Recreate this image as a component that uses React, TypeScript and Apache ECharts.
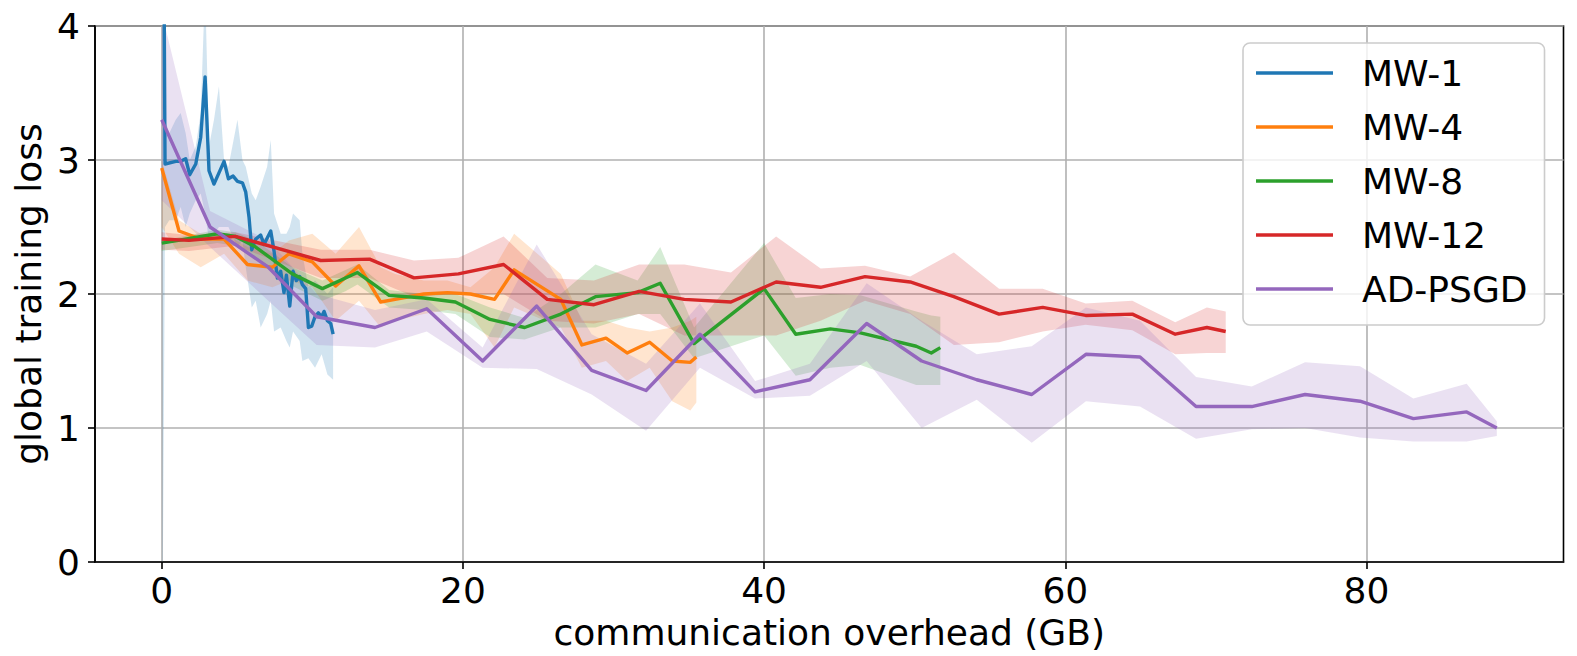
import React, { useEffect, useRef } from 'react';
import * as echarts from 'echarts';

const seriesNames = ['MW-1', 'MW-4', 'MW-8', 'MW-12', 'AD-PSGD'];
const lineColors = ['#1f77b4', '#ff7f0e', '#2ca02c', '#d62728', '#9467bd'];
const bandColors = [
  'rgba(31,119,180,0.2)',
  'rgba(255,127,14,0.2)',
  'rgba(44,160,44,0.2)',
  'rgba(214,39,40,0.2)',
  'rgba(148,103,189,0.2)',
];
const xTicks = [0, 20, 40, 60, 80];

// MW-1
const mw1X = [0.05, 0.22, 0.93, 1.26, 1.59, 1.86, 2.26, 2.59, 2.88, 3.14, 3.47, 4.14, 4.43, 4.74, 5.03, 5.36, 5.58, 5.8, 5.98, 6.24, 6.57, 6.79, 7.24, 7.46, 7.68, 7.9, 8.12, 8.28, 8.5, 8.72, 8.94, 9.16, 9.34, 9.56, 9.74, 9.96, 10.18, 10.4, 10.62, 10.78, 11.0, 11.22, 11.38];
const mw1Y = [6.5, 2.97, 2.99, 2.99, 3.01, 2.89, 2.97, 3.17, 3.62, 2.92, 2.82, 2.99, 2.86, 2.88, 2.84, 2.83, 2.76, 2.57, 2.33, 2.41, 2.44, 2.37, 2.47, 2.32, 2.12, 2.17, 2.01, 2.14, 1.91, 2.17, 2.1, 2.13, 2.07, 2.04, 1.75, 1.76, 1.83, 1.86, 1.83, 1.87, 1.8, 1.78, 1.7];
const mw1BandX = [0.05, 0.22, 0.5, 0.93, 1.26, 1.59, 1.86, 2.26, 2.59, 2.88, 3.14, 3.47, 3.8, 4.14, 4.43, 5.03, 5.36, 5.58, 5.98, 6.24, 6.57, 7.0, 7.24, 7.46, 7.9, 8.28, 8.5, 8.72, 9.16, 9.34, 9.74, 10.18, 10.62, 11.0, 11.38];
const mw1Hi = [9, 3.3, 3.2, 3.3, 3.35, 3.2, 3.0, 3.1, 3.35, 4.3, 3.1, 3.3, 3.55, 3.0, 2.95, 3.3, 3.0, 2.95, 2.75, 2.7, 2.8, 2.95, 3.15, 2.6, 2.45, 2.45, 2.5, 2.6, 2.55, 2.3, 2.05, 2.1, 2.05, 2.0, 2.05];
const mw1Lo = [-0.5, 2.5, 2.55, 2.55, 2.65, 2.5, 2.6, 2.7, 2.75, 2.6, 2.4, 2.45, 2.5, 2.5, 2.5, 2.35, 2.4, 2.2, 1.9, 1.95, 1.75, 1.85, 1.95, 1.72, 1.75, 1.65, 1.6, 1.72, 1.65, 1.5, 1.52, 1.45, 1.55, 1.4, 1.36];

// MW-4
const mw4X = [0, 1.15, 2.59, 4.14, 5.69, 7.35, 8.45, 10.0, 11.55, 13.1, 14.54, 15.5, 17.4, 18.97, 20.5, 22.1, 23.4, 26.5, 27.9, 29.5, 30.9, 32.4, 33.9, 35.1, 35.5];
const mw4Y = [2.94, 2.47, 2.41, 2.41, 2.22, 2.2, 2.3, 2.24, 2.06, 2.21, 1.94, 1.96, 2.0, 2.01, 2.0, 1.96, 2.18, 1.96, 1.62, 1.67, 1.56, 1.64, 1.5, 1.49, 1.53];
const mw4Hi = [3.0, 2.55, 2.45, 2.45, 2.35, 2.3, 2.4, 2.45, 2.3, 2.5, 2.2, 2.15, 2.1, 2.1, 2.05, 2.2, 2.45, 2.15, 1.8, 1.8, 1.75, 1.72, 1.75, 1.8, 1.83];
const mw4Lo = [2.5, 2.3, 2.2, 2.3, 2.1, 2.05, 2.1, 2.05, 1.8, 1.95, 1.75, 1.8, 1.85, 1.88, 1.85, 1.6, 1.9, 1.75, 1.45, 1.5, 1.35, 1.45, 1.2, 1.13, 1.19];

// MW-8
const mw8X = [0, 3.7, 4.9, 6.24, 8.67, 10.67, 12.2, 13.0, 15.1, 17.4, 19.5, 21.8, 24.1, 26.5, 28.8, 31.6, 33.1, 35.35, 40.0, 42.1, 44.4, 46.4, 50.1, 51.1, 51.7];
const mw8Y = [2.38, 2.45, 2.43, 2.35, 2.15, 2.04, 2.12, 2.16, 1.99, 1.97, 1.94, 1.81, 1.75, 1.85, 1.98, 2.01, 2.08, 1.63, 2.04, 1.7, 1.74, 1.71, 1.61, 1.56, 1.6];
const mw8Hi = [2.4, 2.48, 2.46, 2.4, 2.2, 2.1, 2.18, 2.22, 2.03, 2.0, 2.0, 1.9, 1.82, 2.0, 2.22, 2.1, 2.35, 1.75, 2.38, 1.97, 2.0, 1.99, 1.87, 1.84, 1.83];
const mw8Lo = [2.32, 2.38, 2.36, 2.26, 2.06, 1.95, 2.02, 2.07, 1.9, 1.88, 1.85, 1.68, 1.66, 1.75, 1.75, 1.85, 1.85, 1.52, 1.69, 1.39, 1.45, 1.47, 1.32, 1.32, 1.32];

// MW-12
const mw12X = [0, 1.81, 4.9, 10.56, 13.8, 16.75, 19.7, 22.7, 25.6, 28.7, 31.7, 34.7, 37.8, 40.8, 43.75, 46.7, 49.7, 52.6, 55.6, 58.5, 61.35, 64.45, 67.3, 69.4, 70.65];
const mw12Y = [2.41, 2.4, 2.43, 2.25, 2.26, 2.12, 2.15, 2.22, 1.96, 1.92, 2.02, 1.96, 1.94, 2.09, 2.05, 2.13, 2.09, 1.98, 1.85, 1.9, 1.84, 1.85, 1.7, 1.75, 1.72];
const mw12Hi = [2.46, 2.44, 2.46, 2.33, 2.33, 2.25, 2.27, 2.43, 2.12, 2.1, 2.22, 2.22, 2.16, 2.43, 2.19, 2.21, 2.13, 2.31, 2.04, 2.04, 1.93, 1.95, 1.79, 1.9, 1.87];
const mw12Lo = [2.33, 2.32, 2.36, 2.12, 2.12, 1.98, 2.0, 2.0, 1.8, 1.78, 1.85, 1.69, 1.69, 1.69, 1.8, 1.95, 1.85, 1.62, 1.64, 1.72, 1.77, 1.73, 1.55, 1.56, 1.56];

// AD-PSGD
const adX = [0, 3.21, 7.08, 10.29, 14.16, 17.6, 21.31, 24.9, 28.55, 32.16, 35.74, 39.4, 43.04, 46.81, 50.46, 54.12, 57.77, 61.37, 64.96, 68.68, 72.38, 75.92, 79.57, 83.11, 86.65, 88.65];
const adY = [3.3, 2.5, 2.2, 1.83, 1.75, 1.89, 1.5, 1.91, 1.43, 1.28, 1.7, 1.27, 1.36, 1.78, 1.5, 1.36, 1.25, 1.55, 1.53, 1.16, 1.16, 1.25, 1.2, 1.07, 1.12, 1.0];
const adHi = [4.1, 2.62, 2.4, 2.0, 1.88, 1.96, 1.6, 2.37, 1.7, 1.48, 1.93, 1.35, 1.48, 2.08, 1.8, 1.55, 1.61, 1.9, 1.8, 1.38, 1.31, 1.49, 1.46, 1.22, 1.33, 1.05];
const adLo = [2.7, 2.35, 1.95, 1.62, 1.6, 1.72, 1.45, 1.44, 1.25, 0.98, 1.45, 1.22, 1.24, 1.5, 1.0, 1.21, 0.89, 1.2, 1.16, 0.92, 0.99, 1.0, 0.93, 0.9, 0.9, 0.94];

const lines = [
  { x: mw1X, y: mw1Y },
  { x: mw4X, y: mw4Y },
  { x: mw8X, y: mw8Y },
  { x: mw12X, y: mw12Y },
  { x: adX, y: adY },
];
const bands = [
  { x: mw1BandX, lo: mw1Lo, hi: mw1Hi },
  { x: mw4X, lo: mw4Lo, hi: mw4Hi },
  { x: mw8X, lo: mw8Lo, hi: mw8Hi },
  { x: mw12X, lo: mw12Lo, hi: mw12Hi },
  { x: adX, lo: adLo, hi: adHi },
];

const FONT = 'DejaVu Sans';

export default function App() {
  const ref = useRef<HTMLDivElement>(null);
  useEffect(() => {
    if (!ref.current) return;
    const chart = echarts.init(ref.current, null, { renderer: 'svg' });

    const bandSeries = bands.map((b, k) => ({
      type: 'custom',
      name: seriesNames[k] + ' band',
      clip: true,
      z: 1,
      silent: true,
      encode: { x: 0, y: [1, 2] },
      data: b.x.map((x, i) => [x, b.lo[i], b.hi[i]]),
      renderItem: (params: any, api: any) => {
        if (params.dataIndex !== 0) return null;
        const pts: number[][] = [];
        for (let i = 0; i < b.x.length; i++) pts.push(api.coord([b.x[i], b.hi[i]]));
        for (let i = b.x.length - 1; i >= 0; i--) pts.push(api.coord([b.x[i], b.lo[i]]));
        return {
          type: 'polygon',
          shape: { points: pts },
          style: { fill: bandColors[k], stroke: 'none' },
        };
      },
    }));

    const lineSeries = lines.map((l, k) => ({
      type: 'line',
      name: seriesNames[k],
      data: l.x.map((x, i) => [x, l.y[i]]),
      showSymbol: false,
      symbol: 'none',
      clip: true,
      z: 3,
      color: lineColors[k],
      lineStyle: { width: 3.4, color: lineColors[k], join: 'round', cap: 'butt' },
      itemStyle: { color: lineColors[k] },
    }));

    chart.setOption({
      animation: false,
      textStyle: { fontFamily: FONT },
      grid: {
        left: 95,
        right: 13.5,
        top: 26,
        bottom: 94,
        show: true,
        borderColor: '#000',
        borderWidth: 1.6,
        containLabel: false,
      },
      xAxis: {
        type: 'value',
        min: -4.43,
        max: 93.08,
        name: 'communication overhead (GB)',
        nameLocation: 'middle',
        nameGap: 52,
        nameTextStyle: { fontSize: 36, color: '#000', fontFamily: FONT },
        axisLine: { show: true, onZero: false, lineStyle: { color: '#000', width: 1.6 } },
        axisTick: { show: true, length: 7, lineStyle: { color: '#000', width: 1.6 }, customValues: xTicks },
        axisLabel: {
          fontSize: 36,
          color: '#000',
          fontFamily: FONT,
          margin: 10,
          customValues: xTicks,
        },
        splitLine: { show: true, lineStyle: { color: '#b0b0b0', width: 1.6 } },
      },
      yAxis: {
        type: 'value',
        min: 0,
        max: 4,
        interval: 1,
        name: 'global training loss',
        nameLocation: 'middle',
        nameGap: 44,
        nameTextStyle: { fontSize: 36, color: '#000', fontFamily: FONT },
        axisLine: { show: true, onZero: false, lineStyle: { color: '#000', width: 1.6 } },
        axisTick: { show: true, length: 7, lineStyle: { color: '#000', width: 1.6 } },
        axisLabel: { fontSize: 36, color: '#000', fontFamily: FONT, margin: 15 },
        splitLine: { show: true, lineStyle: { color: '#b0b0b0', width: 1.6 } },
      },
      legend: {
        data: seriesNames.map((n, k) => ({ name: n, icon: 'rect', itemStyle: { color: lineColors[k] } })),
        orient: 'vertical',
        left: 1243,
        top: 43,
        itemWidth: 77,
        itemHeight: 3.4,
        itemGap: 18,
        padding: [12, 17, 18, 13],
        backgroundColor: 'rgba(255,255,255,0.8)',
        borderColor: '#cccccc',
        borderWidth: 1.6,
        borderRadius: 7,
        textStyle: { fontSize: 36, color: '#000', fontFamily: FONT, lineHeight: 36, padding: [0, 0, 0, 24] },
      },
      series: [...bandSeries, ...lineSeries],
    });
    return () => chart.dispose();
  }, []);
  return (
    <div
      ref={ref}
      style={{ position: 'fixed', left: 0, top: 0, width: 1577, height: 656, background: '#fff' }}
    />
  );
}
